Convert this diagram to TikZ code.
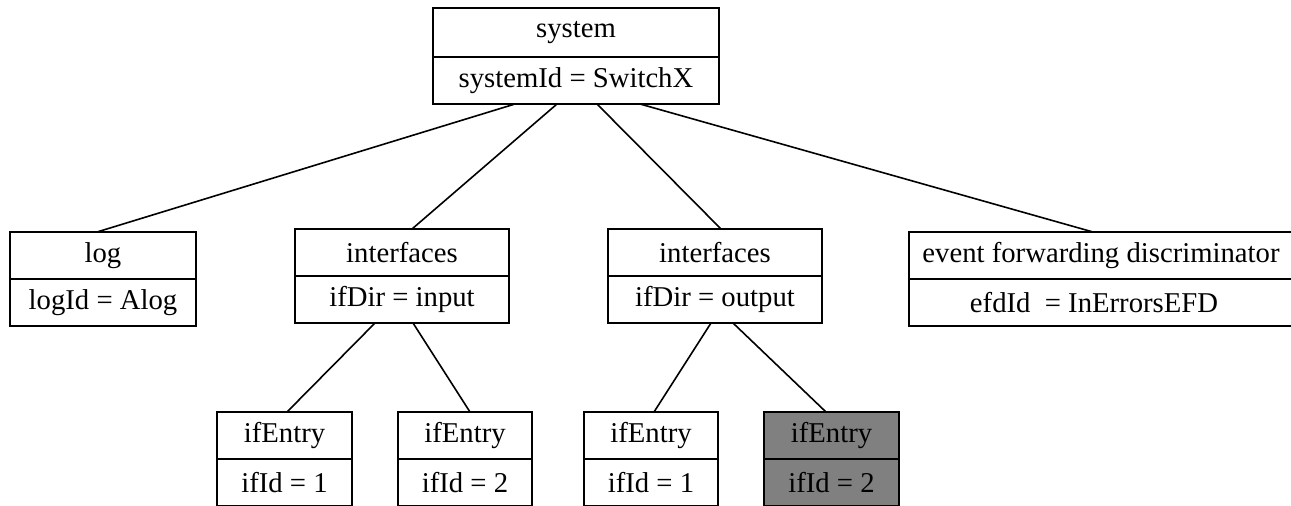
\documentclass[tikz,border=0pt]{standalone}
\usepackage{fontspec}
\setmainfont{Liberation Serif}
\usetikzlibrary{positioning}

\tikzset{
  cell/.style={draw, line width=1.6pt, outer sep=0pt, inner sep=3pt,
    minimum height=47pt, font=\fontsize{28.7}{34}\selectfont},
  edge/.style={line width=1.6pt}
}

\begin{document}
\begin{tikzpicture}[x=1pt,y=-1pt]
                \useasboundingbox (0,0) rectangle (1291,506);
                \clip (0,0) rectangle (1291,506);

                % top record
                \node[cell, minimum width=286pt, minimum height=49pt] (sys) at (576,32.5) {system};
                \node[cell, minimum width=286pt, below=0pt of sys] (sysid) {systemId = SwitchX};

                % second row
                \node[cell, minimum width=186pt] (log) at (103,255.5) {log};
                \node[cell, minimum width=186pt, below=0pt of log] (logid) {logId = Alog};

                \node[cell, minimum width=214pt] (inp) at (402,252.5) {interfaces};
                \node[cell, minimum width=214pt, below=0pt of inp] (inpdir) {ifDir = input};

                \node[cell, minimum width=214pt] (outp) at (715,252.5) {interfaces};
                \node[cell, minimum width=214pt, below=0pt of outp] (outpdir) {ifDir = output};

                \node[cell, minimum width=384pt] (efd) at (1101,255.5) {event forwarding discriminator};
                \node[cell, minimum width=384pt, below=0pt of efd] (efdid) {\hspace*{-14pt}efdId\ \ = InErrorsEFD};

                % bottom row
                \node[cell, minimum width=135pt] (ea) at (284.5,435.5) {ifEntry};
                \node[cell, minimum width=135pt, below=0pt of ea] (eaid) {ifId = 1};

                \node[cell, minimum width=134pt] (eb) at (465,435.5) {ifEntry};
                \node[cell, minimum width=134pt, below=0pt of eb] (ebid) {ifId = 2};

                \node[cell, minimum width=134pt] (ec) at (651,435.5) {ifEntry};
                \node[cell, minimum width=134pt, below=0pt of ec] (ecid) {ifId = 1};

                \node[cell, fill=gray, minimum width=135pt] (ed) at (831.5,435.5) {ifEntry};
                \node[cell, fill=gray, minimum width=135pt, below=0pt of ed] (edid) {ifId = 2};

                % edges
                \draw[edge] ([xshift=-61pt]sysid.south) -- ([xshift=-6pt]log.north);
                \draw[edge] ([xshift=-19pt]sysid.south) -- ([xshift=10pt]inp.north);
                \draw[edge] ([xshift=21pt]sysid.south) -- ([xshift=6pt]outp.north);
                \draw[edge] ([xshift=64pt]sysid.south) -- ([xshift=-8pt]efd.north);

                \draw[edge] ([xshift=-27pt]inpdir.south) -- ([xshift=2.5pt]ea.north);
                \draw[edge] ([xshift=11pt]inpdir.south) -- ([xshift=5pt]eb.north);
                \draw[edge] ([xshift=-4pt]outpdir.south) -- ([xshift=3pt]ec.north);
                \draw[edge] ([xshift=18pt]outpdir.south) -- ([xshift=-5.5pt]ed.north);
            \end{tikzpicture}
\end{document}
